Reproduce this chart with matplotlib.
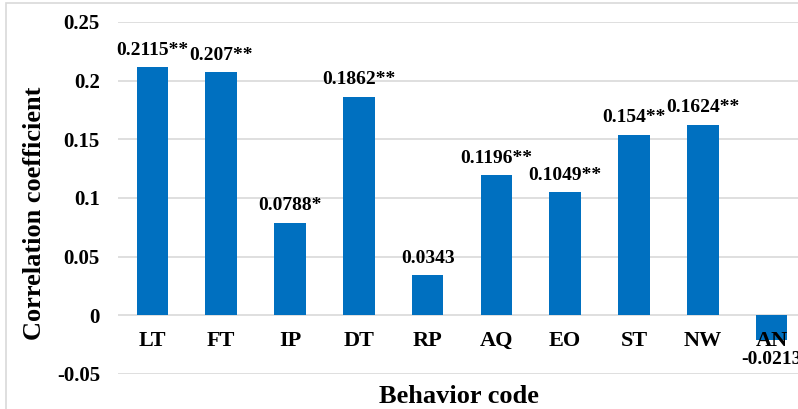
import numpy as np
import matplotlib
matplotlib.use("Agg")
import matplotlib.pyplot as plt
from matplotlib.patches import Rectangle

# chart data
codes = ["LT", "FT", "IP", "DT", "RP", "AQ", "EO", "ST", "NW", "AN"]
coefs = [0.2115, 0.207, 0.0788, 0.1862, 0.0343, 0.1196, 0.1049, 0.154, 0.1624, -0.0213]
labels = ["0.2115**", "0.207**", "0.0788*", "0.1862**", "0.0343",
          "0.1196**", "0.1049**", "0.154**", "0.1624**", "-0.0213"]
yticks = [-0.05, 0, 0.05, 0.1, 0.15, 0.2, 0.25]
ytick_labels = ["-0.05", "0", "0.05", "0.1", "0.15", "0.2", "0.25"]

plt.rcParams['font.family'] = ['Liberation Serif', 'DejaVu Serif']
plt.rcParams['font.weight'] = 'bold'

fig = plt.figure(figsize=(7.98, 4.09), dpi=100)
# plot area runs off the right edge like the original
ax = fig.add_axes([0.1479, 0.0856, 0.862, 0.861])

x = np.arange(len(codes))
ax.bar(x, coefs, width=0.46, color="#0070C0", zorder=3)

ax.set_xlim(-0.5, len(codes) - 0.5)
ax.set_ylim(-0.05, 0.25)
ax.set_yticks(yticks)
ax.set_yticklabels(ytick_labels, fontsize=15, fontweight='bold')
ax.tick_params(axis='y', length=0, pad=13)
ax.set_xticks([])
ax.grid(axis='y', color="#d9d9d9", linewidth=1.2, zorder=0)
for s in ax.spines.values():
    s.set_visible(False)

# category names just under the zero line
for i, c in enumerate(codes):
    ax.annotate(c, (i, 0), xytext=(0, -11), textcoords="offset points",
                ha='center', va='top', fontsize=16, fontweight='bold', zorder=5)

# value labels
for i, (v, lab) in enumerate(zip(coefs, labels)):
    if v >= 0:
        ax.annotate(lab, (i, v), xytext=(0, 6), textcoords="offset points",
                    ha='center', va='bottom', fontsize=14, fontweight='bold')
    else:
        ax.annotate(lab, (i, v), xytext=(0, -8), textcoords="offset points",
                    ha='center', va='top', fontsize=14, fontweight='bold',
                    annotation_clip=False)

ax.set_ylabel("Correlation coefficient", fontsize=19, fontweight='bold')
ax.yaxis.set_label_coords(-0.105, 0.455)
ax.set_xlabel("Behavior code", fontsize=19, fontweight='bold')
ax.xaxis.set_label_coords(0.495, -0.03)

# chart border (cut off at right and bottom)
fig.patches.append(Rectangle((6 / 798, -0.1), 1.2, 1.1 - 3 / 409,
                             transform=fig.transFigure, fill=False,
                             edgecolor="#d9d9d9", linewidth=1.2))

fig.savefig("out.png", dpi=100)
